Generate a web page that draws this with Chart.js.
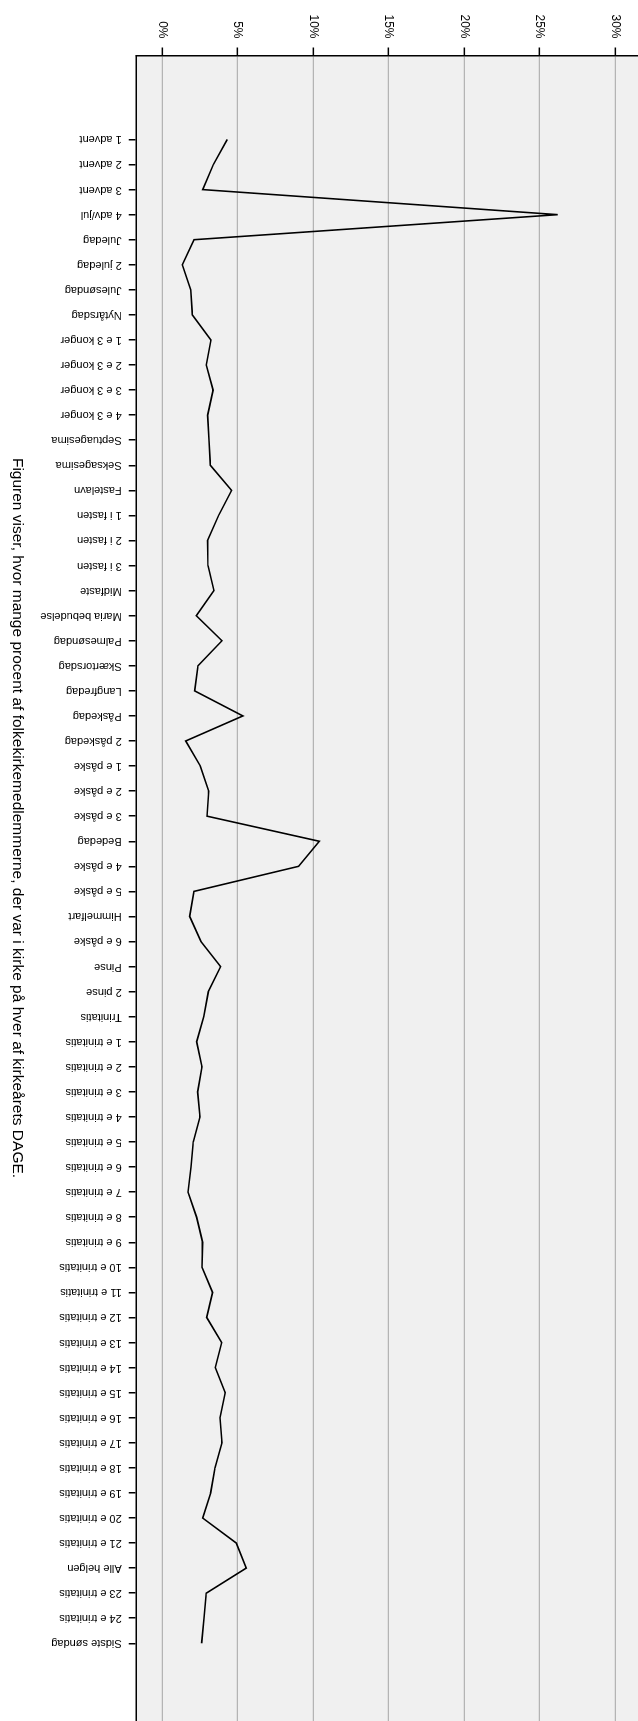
<!DOCTYPE html>
<html>
<head>
<meta charset="utf-8">
<script src="https://cdn.jsdelivr.net/npm/chart.js@4.4.1/dist/chart.umd.min.js"></script>
<style>
  html, body { margin: 0; padding: 0; background: #fff; overflow: hidden; }
  body { width: 638px; height: 1721px; position: relative; }
  /* the chart is drawn lying down and turned a quarter clockwise */
  #wrap {
    position: absolute; left: 0; top: 0;
    width: 1721px; height: 638px;
    transform-origin: 0 0;
    transform: translate(638px, 0) rotate(90deg);
  }
</style>
</head>
<body>
<div id="wrap"><canvas id="chart" width="1721" height="638"></canvas></div>
<script>
const days = [
  '1 advent', '2 advent', '3 advent', '4 adv/jul', 'Juledag', '2 juledag', 'Julesøndag', 'Nytårsdag',
  '1 e 3 konger', '2 e 3 konger', '3 e 3 konger', '4 e 3 konger', 'Septuagesima', 'Seksagesima',
  'Fastelavn', '1 i fasten', '2 i fasten', '3 i fasten', 'Midfaste', 'Maria bebudelse', 'Palmesøndag',
  'Skærtorsdag', 'Langfredag', 'Påskedag', '2 påskedag', '1 e påske', '2 e påske', '3 e påske',
  'Bededag', '4 e påske', '5 e påske', 'Himmelfart', '6 e påske', 'Pinse', '2 pinse', 'Trinitatis',
  '1 e trinitatis', '2 e trinitatis', '3 e trinitatis', '4 e trinitatis', '5 e trinitatis', '6 e trinitatis',
  '7 e trinitatis', '8 e trinitatis', '9 e trinitatis', '10 e trinitatis', '11 e trinitatis', '12 e trinitatis',
  '13 e trinitatis', '14 e trinitatis', '15 e trinitatis', '16 e trinitatis', '17 e trinitatis',
  '18 e trinitatis', '19 e trinitatis', '20 e trinitatis', '21 e trinitatis', 'Alle helgen',
  '23 e trinitatis', '24 e trinitatis', 'Sidste søndag'
];

// procent af medlemmerne i kirke
const attendance = [
  4.30, 3.38, 2.67, 26.2, 2.10, 1.32, 1.88, 1.99,
  3.22, 2.91, 3.36, 3.00, 3.09, 3.18,
  4.59, 3.73, 3.00, 3.02, 3.42, 2.25, 3.95,
  2.36, 2.14, 5.34, 1.55, 2.52, 3.07, 2.96,
  10.40, 9.03, 2.10, 1.81, 2.56, 3.86, 3.05, 2.74,
  2.27, 2.63, 2.34, 2.49, 2.05, 1.90,
  1.70, 2.27, 2.67, 2.63, 3.33, 2.94,
  3.93, 3.51, 4.17, 3.82, 3.95,
  3.49, 3.20, 2.67, 4.90, 5.56,
  2.91, 2.76, 2.60
];

const percentTicks = [0, 5, 10, 15, 20, 25, 30];

const titleText = 'Figuren viser, hvor mange procent af folkekirkemedlemmerne, der var i kirke på hver af kirkeårets DAGE.';

const FONT = '"Liberation Sans", Arial, sans-serif';
Chart.defaults.font.family = FONT;
Chart.defaults.color = '#000';

const plotBackground = {
  id: 'plotBackground',
  beforeDraw(chart) {
    const { ctx, chartArea: a } = chart;
    ctx.save();
    ctx.fillStyle = '#f0f0f0';
    ctx.fillRect(a.left, a.top, a.right - a.left, a.bottom - a.top);
    ctx.restore();
  }
};

// day names run downwards from the ticks, plus the caption under the axis
const dayLabels = {
  id: 'dayLabels',
  afterDraw(chart) {
    const { ctx } = chart;
    const xs = chart.scales.x;
    ctx.save();
    ctx.fillStyle = '#000';
    ctx.font = '11px ' + FONT;
    ctx.textAlign = 'left';
    ctx.textBaseline = 'middle';
    days.forEach((d, i) => {
      ctx.save();
      ctx.translate(xs.getPixelForValue(i), xs.top + 15);
      ctx.rotate(Math.PI / 2);
      ctx.fillText(d, 0, 0);
      ctx.restore();
    });
    ctx.font = '15.5px ' + FONT;
    ctx.textAlign = 'center';
    ctx.fillText(titleText, 818, 621);
    ctx.restore();
  }
};

new Chart(document.getElementById('chart'), {
  type: 'line',
  data: {
    datasets: [{
      data: attendance.map((v, i) => ({ x: i, y: v })),
      borderColor: '#000',
      borderWidth: 1.6,
      pointRadius: 0,
      tension: 0,
      fill: false
    }]
  },
  options: {
    responsive: false,
    animation: false,
    layout: { padding: 0 },
    plugins: {
      legend: { display: false },
      tooltip: { enabled: false }
    },
    scales: {
      x: {
        type: 'linear',
        position: 'bottom',
        min: -3.35,
        max: 63.1,
        afterBuildTicks(scale) {
          scale.ticks = days.map((_, i) => ({ value: i }));
        },
        afterFit(scale) {
          scale.height = 136.7;
          scale.paddingLeft = 0;
          scale.paddingRight = 0;
        },
        ticks: { display: false },
        grid: {
          drawOnChartArea: false,
          color: '#000',
          lineWidth: 1.5,
          tickLength: 8
        },
        border: { color: '#000', width: 1.5 }
      },
      y: {
        type: 'linear',
        min: -1.70,
        max: 31.52,
        afterBuildTicks(scale) {
          scale.ticks = percentTicks.map(v => ({ value: v }));
        },
        afterFit(scale) {
          scale.width = 55.5;
          scale.paddingTop = 0;
          scale.paddingBottom = 0;
        },
        ticks: {
          callback: v => v + '%',
          font: { size: 12 },
          color: '#000',
          padding: 9
        },
        grid: {
          color: '#b4b4b4',
          lineWidth: 1.3,
          tickColor: '#000',
          tickWidth: 1.5,
          tickLength: 8
        },
        border: { color: '#000', width: 1.5 }
      }
    }
  },
  plugins: [plotBackground, dayLabels]
});
</script>
</body>
</html>
